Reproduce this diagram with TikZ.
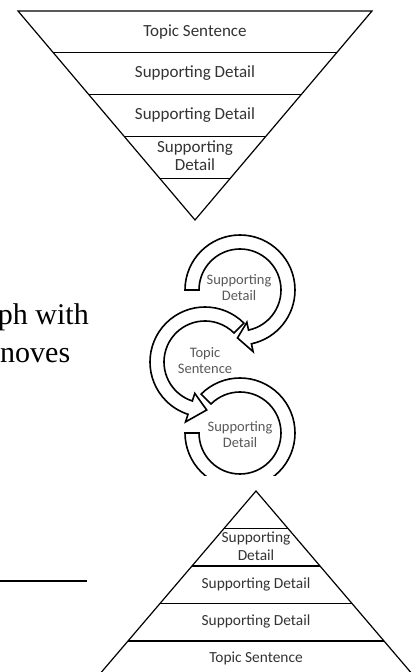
\documentclass[tikz,border=0pt]{standalone}
\usepackage{fontspec}
\setmainfont{Carlito}
\newfontfamily\bodyserif{Liberation Serif}
\usetikzlibrary{calc}
\begin{document}
\begin{tikzpicture}[x=1pt,y=1pt,
  shapeline/.style={draw=black, line width=1.2pt, line join=miter},
  ring/.style={draw=black, line width=1.6pt, fill=white, line join=miter},
  tritext/.style={font=\fontsize{17}{18}\selectfont, text=black!80, align=center, inner sep=0pt},
  bottext/.style={font=\fontsize{15.4}{18}\selectfont, text=black!80, align=center, inner sep=0pt},
  ringtext/.style={font=\fontsize{14.5}{16}\selectfont, text=black!65, align=center, inner sep=0pt},
  bodytext/.style={font=\bodyserif\fontsize{30}{36}\selectfont, inner sep=0pt}]
\useasboundingbox (0,0) rectangle (417,672);

% ---------- top inverted triangle ----------
\coordinate (TL) at (18,661);
\coordinate (TR) at (372,661);
\coordinate (TA) at (195,452);
\draw[shapeline] (TL) -- (TR) -- (TA) -- cycle;
\foreach \t in {0.2,0.4,0.6,0.8}
  \draw[shapeline] ($(TL)!\t!(TA)$) -- ($(TR)!\t!(TA)$);
\node[tritext] (t1) at (195,640) {Topic Sentence};
\node[tritext] (t2) at (195,599) {Supporting Detail};
\node[tritext] (t3) at (195,557) {Supporting Detail};
\node[tritext] (t4) at (195,516) {Supporting\\Detail};

% ---------- circular arrows ----------
\coordinate (C1) at (240,382);
\coordinate (C2) at (205,310);
\coordinate (C3) at (240,239);
\draw[ring] ([shift={(180:55)}]C1) arc[start angle=180, end angle=-78, radius=55]
  -- ([shift={(-78:63)}]C1) -- ([shift={(-93:48)}]C1) -- ([shift={(-78:33)}]C1)
  -- ([shift={(-78:41)}]C1) arc[start angle=-78, end angle=180, radius=41] -- cycle;
\draw[ring] ([shift={(45:55)}]C2) arc[start angle=45, end angle=252, radius=55]
  -- ([shift={(252:63)}]C2) -- ([shift={(272:48)}]C2) -- ([shift={(252:33)}]C2)
  -- ([shift={(252:41)}]C2) arc[start angle=252, end angle=45, radius=41] -- cycle;
\begin{scope}
  \clip (0,196) rectangle (417,672);
  \draw[ring] ([shift={(135:55)}]C3) arc[start angle=135, end angle=-180, radius=55]
    -- ([shift={(180:41)}]C3) arc[start angle=-180, end angle=135, radius=41] -- cycle;
\end{scope}
\node[ringtext] (r1) at (239,384) {Supporting\\Detail};
\node[ringtext] (r2) at (205,311) {Topic\\Sentence};
\node[ringtext] (r3) at (240,237.5) {Supporting\\Detail};

% ---------- body text fragments ----------
\node[bodytext, anchor=base east] (b1) at (89,347) {ph with};
\node[bodytext, anchor=base west] (b2) at (0,309) {noves};
\coordinate (L1) at (-2,91);
\coordinate (L2) at (87,91);
\draw[line width=2pt] (L1) -- (L2);

% ---------- bottom triangle ----------
\coordinate (BA) at (256,181);
\coordinate (BL) at (96,-6.5);
\coordinate (BR) at (416,-6.5);
\draw[shapeline] (BL) -- (BA) -- (BR);
\foreach \t in {0.2,0.4,0.6,0.8}
  \draw[shapeline] ($(BA)!\t!(BL)$) -- ($(BA)!\t!(BR)$);
\node[bottext] (p1) at (256,126) {Supporting\\Detail};
\node[bottext] (p2) at (256,88) {Supporting Detail};
\node[bottext] (p3) at (256,51) {Supporting Detail};
\node[bottext] (p4) at (256,14) {Topic Sentence};
\end{tikzpicture}
\end{document}
